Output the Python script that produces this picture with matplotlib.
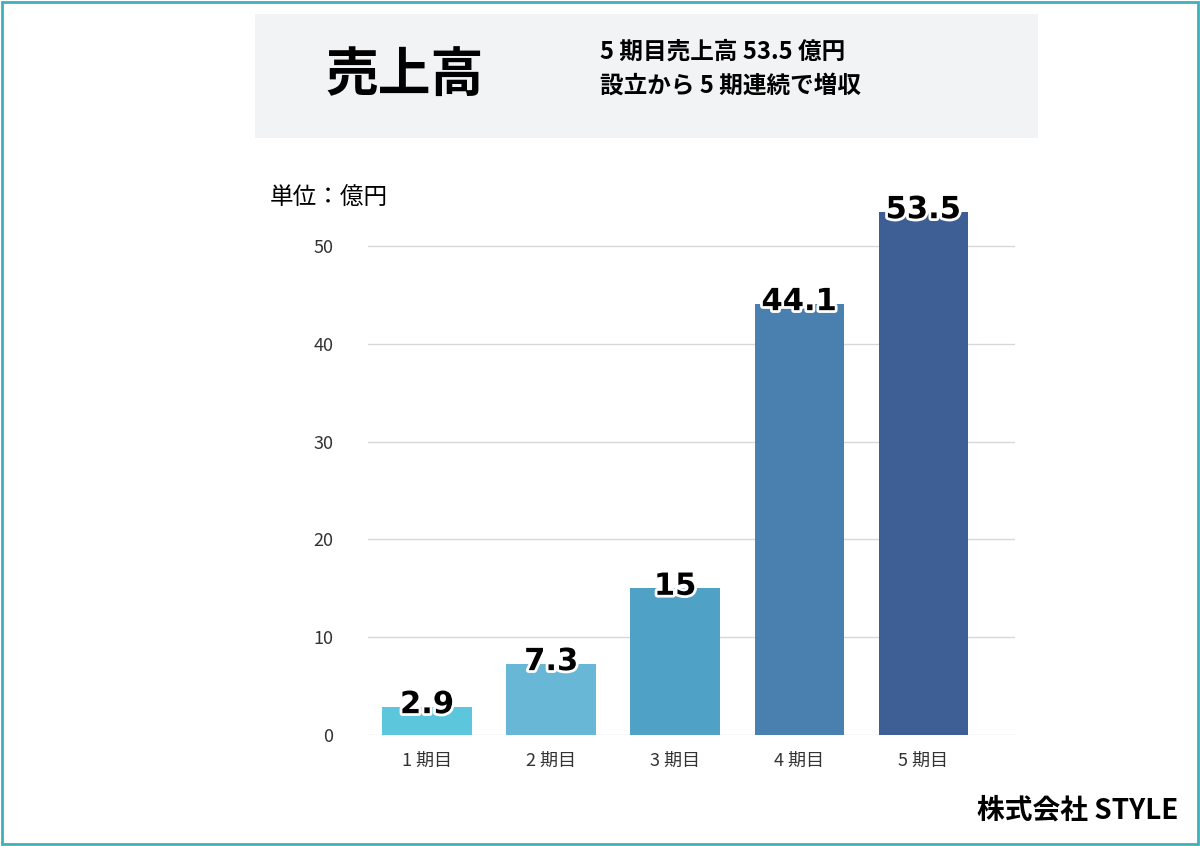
# -*- coding: utf-8 -*-
# Sales bar chart with matplotlib

import numpy as np
import matplotlib.pyplot as plt
import matplotlib.patheffects as pe
from matplotlib.patches import Rectangle

plt.rcParams['font.family'] = ['Noto Sans CJK JP', 'DejaVu Sans']

# --- Data
Periods = ['1 期目', '2 期目', '3 期目', '4 期目', '5 期目']
Sales   = [2.9, 7.3, 15, 44.1, 53.5]
Colors  = ['#5cc6dc', '#68b7d6', '#4fa2c6', '#4a80b0', '#3d5f95']
Labels  = ['2.9', '7.3', '15', '44.1', '53.5']

fig = plt.figure(figsize=(12, 8.46), dpi=100)
fig.patches.append(Rectangle((0.002, 0.002), 0.996, 0.996, transform=fig.transFigure,
                             fill=False, edgecolor='#3fb1b8', linewidth=2))
fig.patches.append(Rectangle((255/1200, 1-138/846), 783/1200, 124/846, transform=fig.transFigure,
                             facecolor='#f2f3f5', edgecolor='none'))
fig.text(405/1200, 1-75/846, '売上高', fontsize=38, fontweight='bold', ha='center', va='center')
fig.text(600/1200, 1-52/846, '5 期目売上高 53.5 億円', fontsize=17, fontweight='bold', va='center')
fig.text(600/1200, 1-86/846, '設立から 5 期連続で増収', fontsize=17, fontweight='bold', va='center')
fig.text(270/1200, 1-198/846, '単位：億円', fontsize=17, va='center')
fig.text(1178/1200, 1-810/846, '株式会社 STYLE', fontsize=20, fontweight='bold', ha='right', va='center')

ax = fig.add_axes([368/1200, 1-735/846, 647/1200, 538/846])
x = np.arange(len(Sales))
ax.bar(x, Sales, width=0.72, color=Colors, zorder=2)
for i, v in enumerate(Sales):
	ax.text(i, v + 0.2, Labels[i], ha='center', va='center', fontsize=22, fontweight='bold',
	        family='DejaVu Sans', zorder=3,
	        path_effects=[pe.withStroke(linewidth=4, foreground='white')])

ax.set_xlim(-0.476, 4.74)
ax.set_ylim(0, 55)
ax.set_yticks([0, 10, 20, 30, 40, 50])
ax.set_xticks(x)
ax.set_xticklabels(Periods)
ax.tick_params(length=0, labelsize=13, colors='#333333')
ax.tick_params(axis='y', pad=25)
ax.tick_params(axis='x', pad=12)
ax.grid(axis='y', color='#d8d8d8', linewidth=1, zorder=0)
for s in ax.spines.values():
	s.set_visible(False)

fig.savefig('out.png')
